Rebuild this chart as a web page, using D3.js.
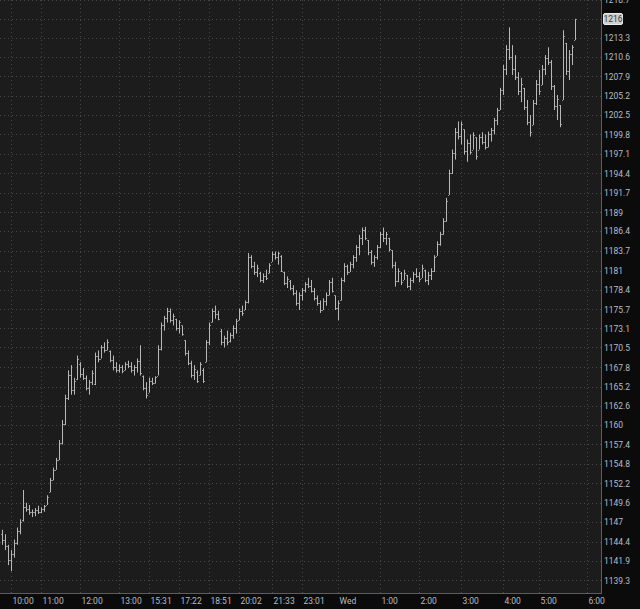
<!DOCTYPE html>
<html>
<head>
<meta charset="utf-8">
<script src="https://cdn.jsdelivr.net/npm/d3@7"></script>
<style>
  html, body { margin: 0; padding: 0; background: #0b0b0b; }
  svg { display: block; }
  .lbl { font-family: Roboto, sans-serif; font-size: 8.5px; fill: #b9bcc4; }
</style>
</head>
<body>
<div id="chart"></div>
<script>
// price bars (one bar per slot)
var opens = [1145.5,1144.6,1143.8,1142.0,1142.8,1144.2,1145.8,1147.3,1149.0,1148.7,1148.3,1148.4,1148.6,1148.4,1148.8,1149.3,1151.0,1152.6,1154.0,1155.3,
  1157.6,1160.2,1163.6,1166.8,1164.8,1166.2,1168.3,1166.9,1166.4,1165.0,1165.8,1165.6,1169.4,1169.0,1170.5,1170.2,1170.0,1168.8,1167.8,1167.5,
  1167.9,1167.5,1168.2,1168.0,1167.4,1167.9,1168.7,1166.7,1165.0,1164.4,1166.0,1165.7,1166.7,1170.3,1173.5,1174.5,1175.5,1174.3,1174.4,1173.2,
  1173.5,1171.5,1169.8,1168.4,1166.8,1167.2,1166.8,1167.5,1168.5,1171.2,1173.9,1175.4,1175.0,1172.8,1171.2,1171.8,1171.4,1172.2,1173.2,1174.2,
  1175.5,1175.6,1176.7,1182.9,1181.6,1180.8,1180.6,1179.7,1180.3,1180.7,1182.2,1183.3,1182.8,1183.0,1180.8,1179.3,1179.6,1178.6,1177.9,1176.6,
  1177.6,1178.3,1179.1,1178.9,1178.2,1177.2,1176.5,1175.6,1176.8,1177.7,1179.4,1177.6,1175.9,1176.9,1179.7,1181.6,1180.8,1181.9,1182.8,1184.2,
  1185.5,1186.6,1185.2,1183.5,1182.2,1182.9,1184.2,1186.0,1185.4,1185.5,1183.8,1181.7,1179.6,1180.6,1179.7,1180.4,1178.9,1179.7,1180.5,1180.2,
  1180.0,1181.1,1179.7,1180.4,1181.0,1183.0,1184.7,1186.0,1187.8,1191.4,1194.5,1197.2,1200.2,1199.6,1200.5,1197.5,1198.6,1197.7,1199.4,1197.7,
  1199.5,1198.7,1198.0,1199.9,1200.4,1201.8,1203.2,1206.0,1209.0,1211.8,1210.6,1209.0,1207.8,1205.8,1206.3,1203.6,1201.6,1201.1,1204.2,1206.9,
  1206.7,1209.0,1210.5,1209.9,1206.5,1203.8,1203.9,1204.6,1212.6,1208.6,1211.0,1213.0];
var highs = [1146.0,1145.4,1144.0,1143.3,1144.7,1146.3,1147.4,1151.3,1149.6,1149.3,1148.7,1148.9,1149.2,1149.0,1149.3,1150.6,1152.9,1154.3,1155.6,1158.0,
  1160.7,1164.1,1167.4,1168.1,1166.4,1169.4,1168.5,1167.7,1166.7,1166.1,1167.4,1169.8,1170.1,1170.8,1171.2,1171.6,1170.1,1169.4,1168.5,1168.2,
  1168.1,1168.5,1168.7,1168.5,1168.1,1169.0,1170.8,1166.7,1165.8,1166.4,1166.4,1166.6,1170.8,1173.9,1174.8,1175.9,1175.8,1175.1,1174.4,1174.2,
  1173.5,1171.5,1170.1,1168.7,1168.1,1167.4,1168.5,1167.7,1171.5,1173.9,1175.8,1176.2,1175.5,1173.0,1172.1,1172.8,1172.5,1173.5,1174.4,1175.8,
  1176.2,1176.9,1183.4,1183.1,1182.2,1181.8,1180.8,1180.6,1181.1,1182.0,1183.6,1183.6,1183.6,1183.1,1180.8,1180.2,1179.7,1179.0,1178.3,1178.0,
  1178.6,1179.4,1180.0,1179.7,1178.6,1177.6,1176.9,1177.2,1178.0,1179.7,1180.0,1177.6,1176.9,1180.0,1182.0,1181.8,1182.2,1183.1,1184.5,1185.9,
  1186.9,1187.0,1185.2,1183.8,1183.1,1184.5,1186.3,1186.9,1186.3,1185.5,1183.8,1182.2,1181.3,1180.8,1181.1,1180.4,1180.0,1180.8,1181.3,1180.8,
  1181.8,1181.1,1180.8,1181.3,1183.1,1185.0,1186.3,1188.2,1191.0,1194.9,1197.7,1200.7,1201.6,1201.6,1200.5,1199.1,1199.8,1200.1,1199.4,1199.8,
  1200.1,1199.8,1200.2,1200.7,1202.1,1203.5,1206.3,1209.5,1212.3,1214.8,1212.3,1210.9,1208.5,1207.7,1206.3,1204.6,1202.5,1204.6,1207.4,1208.8,
  1209.5,1210.9,1212.0,1210.2,1206.7,1205.3,1203.9,1214.4,1212.6,1211.6,1212.3,1216.0];
var lows = [1144.0,1143.3,1141.3,1140.5,1142.3,1144.0,1145.4,1147.1,1148.4,1148.0,1147.7,1147.8,1148.1,1148.2,1148.4,1149.3,1151.0,1152.6,1154.0,1155.3,
  1157.4,1160.0,1163.4,1164.1,1164.1,1166.1,1166.4,1166.1,1164.7,1164.1,1165.4,1165.4,1168.5,1169.0,1169.8,1170.1,1168.5,1167.4,1167.1,1167.1,
  1167.0,1167.4,1167.7,1167.1,1166.7,1167.1,1166.7,1164.7,1163.6,1164.4,1165.4,1165.6,1166.7,1170.1,1172.8,1173.9,1173.9,1173.5,1172.8,1172.4,
  1172.1,1169.4,1168.1,1166.4,1166.1,1165.7,1166.7,1165.7,1168.5,1170.8,1173.9,1174.4,1174.2,1170.8,1170.5,1170.8,1171.2,1171.7,1172.4,1174.2,
  1174.8,1175.6,1176.5,1181.3,1180.4,1180.1,1179.4,1179.3,1179.7,1180.6,1182.2,1182.5,1181.8,1180.8,1179.0,1178.6,1178.3,1177.6,1176.2,1175.6,
  1176.9,1178.0,1178.6,1178.0,1176.9,1176.2,1175.2,1175.6,1176.2,1177.6,1178.0,1175.6,1174.2,1176.9,1179.4,1180.4,1180.8,1181.3,1182.2,1183.1,
  1184.5,1185.2,1183.1,1181.8,1181.5,1182.5,1184.1,1184.9,1184.5,1183.6,1181.3,1178.8,1179.4,1179.0,1179.7,1178.6,1178.3,1179.3,1180.0,1179.4,
  1180.0,1179.4,1179.0,1179.7,1180.8,1183.0,1184.4,1185.9,1187.7,1191.4,1194.3,1196.3,1199.1,1198.4,1197.0,1196.0,1197.0,1197.7,1196.3,1197.7,
  1198.4,1197.7,1198.0,1198.8,1199.8,1201.1,1203.2,1205.3,1208.1,1210.2,1208.1,1207.4,1205.3,1204.3,1203.2,1201.1,1199.5,1201.1,1203.9,1205.3,
  1206.7,1208.1,1209.5,1206.0,1203.2,1201.8,1200.8,1204.6,1208.1,1207.4,1209.5,1213.0];
var closes = [1144.6,1143.8,1142.0,1142.8,1144.2,1145.8,1147.0,1149.0,1148.7,1148.3,1148.4,1148.6,1148.4,1148.8,1149.2,1150.4,1152.6,1154.0,1155.3,1157.6,
  1160.2,1163.6,1166.8,1164.8,1166.0,1168.9,1166.9,1166.4,1165.0,1165.8,1167.0,1169.4,1169.0,1170.5,1170.2,1171.3,1168.8,1167.8,1167.5,1167.9,
  1167.3,1168.2,1168.0,1167.4,1167.9,1168.7,1167.0,1165.0,1164.0,1166.0,1165.7,1166.5,1170.3,1173.5,1174.5,1175.5,1174.3,1174.8,1173.2,1173.9,
  1172.3,1169.8,1168.4,1166.8,1167.6,1166.0,1168.2,1166.0,1171.2,1173.6,1175.4,1175.0,1174.4,1171.2,1171.8,1171.2,1172.2,1173.2,1174.1,1175.5,
  1175.2,1176.7,1182.9,1181.6,1180.8,1181.4,1179.7,1180.3,1180.0,1181.8,1183.3,1182.8,1183.4,1181.0,1179.3,1179.8,1178.6,1177.9,1176.6,1177.6,
  1178.3,1179.1,1178.9,1178.2,1177.2,1176.5,1175.6,1176.8,1177.7,1179.4,1178.2,1175.9,1176.5,1179.7,1181.6,1180.8,1181.9,1182.8,1184.2,1185.5,
  1186.6,1185.5,1183.5,1182.2,1182.9,1184.2,1186.0,1185.4,1186.0,1184.0,1181.7,1179.6,1180.9,1179.4,1180.7,1178.9,1179.7,1180.5,1180.2,1179.8,
  1181.4,1179.7,1180.4,1181.0,1182.8,1184.7,1186.0,1187.8,1190.6,1194.5,1197.2,1200.2,1199.6,1201.2,1197.5,1198.6,1197.4,1199.7,1196.8,1199.5,
  1198.7,1198.0,1199.9,1200.4,1201.8,1203.2,1206.0,1209.0,1211.8,1210.6,1209.0,1207.8,1205.8,1206.9,1203.6,1201.6,1200.1,1204.2,1206.9,1205.8,
  1209.0,1210.5,1209.9,1206.5,1203.8,1204.8,1201.3,1213.6,1208.6,1211.0,1212.0,1216.0];

var priceTicks = [1139.3,1141.9,1144.4,1147,1149.6,1152.2,1154.8,1157.4,1160,1162.6,1165.2,1167.8,1170.5,1173.1,1175.7,
  1178.4,1181,1183.7,1186.4,1189,1191.7,1194.4,1197.1,1199.8,1202.5,1205.2,1207.9,1210.6,1213.3,1216,1218.7];
var timeLabels = ["10:00","11:00","12:00","13:00","15:31","17:22","18:51","20:02","21:33","23:01","Wed","1:00","2:00","3:00","4:00","5:00","6:00"];
var timeSlots = [3,13,26,39,49,59,69,79,90,100,112,126,139,153,167,179,195];
var lastPrice = 1216;

var width = 640, height = 609;
var plotW = 601, plotH = 593;

var data = opens.map(function(o, i) {
  return {i: i, o: o, h: highs[i], l: lows[i], c: closes[i]};
});

var x = d3.scaleLinear().domain([0, 200]).range([2, 602]);
var y = d3.scaleLog().domain([1139.3, 1213.3]).range([580.3, 38]);

var svg = d3.select("#chart").append("svg")
    .attr("width", width)
    .attr("height", height);

svg.append("rect").attr("width", width).attr("height", height).attr("fill", "#0b0b0b");
svg.append("rect").attr("width", plotW).attr("height", plotH).attr("fill", "#1c1c1c");

// dotted grid
svg.append("g").selectAll("line")
  .data(priceTicks)
  .enter().append("line")
    .attr("x1", 0).attr("x2", plotW)
    .attr("y1", function(d) { return Math.round(y(d)) + 0.5; })
    .attr("y2", function(d) { return Math.round(y(d)) + 0.5; })
    .attr("stroke", "#464646")
    .attr("stroke-dasharray", "1,3");

svg.append("g").selectAll("line")
  .data(timeSlots)
  .enter().append("line")
    .attr("x1", function(d) { return Math.round(x(d)) + 0.5; })
    .attr("x2", function(d) { return Math.round(x(d)) + 0.5; })
    .attr("y1", 0).attr("y2", plotH)
    .attr("stroke", "#464646")
    .attr("stroke-dasharray", "1,3");

// ohlc bars
var bars = svg.append("g").attr("stroke-width", 1);
var g = bars.selectAll("g").data(data).enter().append("g");
g.append("line")
  .attr("stroke", "#b8b8b8")
  .attr("x1", function(d) { return Math.round(x(d.i)) + 0.5; })
  .attr("x2", function(d) { return Math.round(x(d.i)) + 0.5; })
  .attr("y1", function(d) { return y(d.h); })
  .attr("y2", function(d) { return y(d.l); });
g.append("line")
  .attr("stroke", "#8e8e8e")
  .attr("x1", function(d) { return Math.round(x(d.i)) - 1; })
  .attr("x2", function(d) { return Math.round(x(d.i)); })
  .attr("y1", function(d) { return Math.round(y(d.o)) + 0.5; })
  .attr("y2", function(d) { return Math.round(y(d.o)) + 0.5; });
g.append("line")
  .attr("stroke", "#8e8e8e")
  .attr("x1", function(d) { return Math.round(x(d.i)) + 1; })
  .attr("x2", function(d) { return Math.round(x(d.i)) + 2; })
  .attr("y1", function(d) { return Math.round(y(d.c)) + 0.5; })
  .attr("y2", function(d) { return Math.round(y(d.c)) + 0.5; });

// axes
var yAxis = d3.axisRight(y).tickValues(priceTicks).tickSize(0).tickPadding(3)
  .tickFormat(function(d) { return String(d); });
var ya = svg.append("g").attr("transform", "translate(" + plotW + ",0)").call(yAxis);
ya.select(".domain").remove();
ya.selectAll("text").attr("class", "lbl").attr("fill", null);

var xAxis = d3.axisBottom(x).tickValues(timeSlots).tickSize(0).tickPadding(5)
  .tickFormat(function(d, i) { return timeLabels[i]; });
var xa = svg.append("g").attr("transform", "translate(0," + plotH + ")").call(xAxis);
xa.select(".domain").remove();
xa.selectAll("text").attr("class", "lbl").attr("fill", null)
  .attr("text-anchor", "start").attr("dx", "1");

// plot border
svg.append("line").attr("x1", plotW + 0.5).attr("x2", plotW + 0.5).attr("y1", 0).attr("y2", plotH + 1)
  .attr("stroke", "#5c5c5c");
svg.append("line").attr("x1", 0).attr("x2", plotW + 1).attr("y1", plotH + 0.5).attr("y2", plotH + 0.5)
  .attr("stroke", "#5c5c5c");

// last price marker
var ly = y(lastPrice);
svg.append("rect").attr("x", plotW + 2.5).attr("y", Math.round(ly) - 5.5)
  .attr("width", 19).attr("height", 11).attr("rx", 1.5)
  .attr("fill", "#cfcfcf").attr("stroke", "#e8e8e8");
svg.append("text").attr("x", plotW + 12).attr("y", ly).attr("dy", "0.33em")
  .attr("text-anchor", "middle").attr("class", "lbl").style("fill", "#3a3a3a")
  .text(lastPrice);
</script>
</body>
</html>
